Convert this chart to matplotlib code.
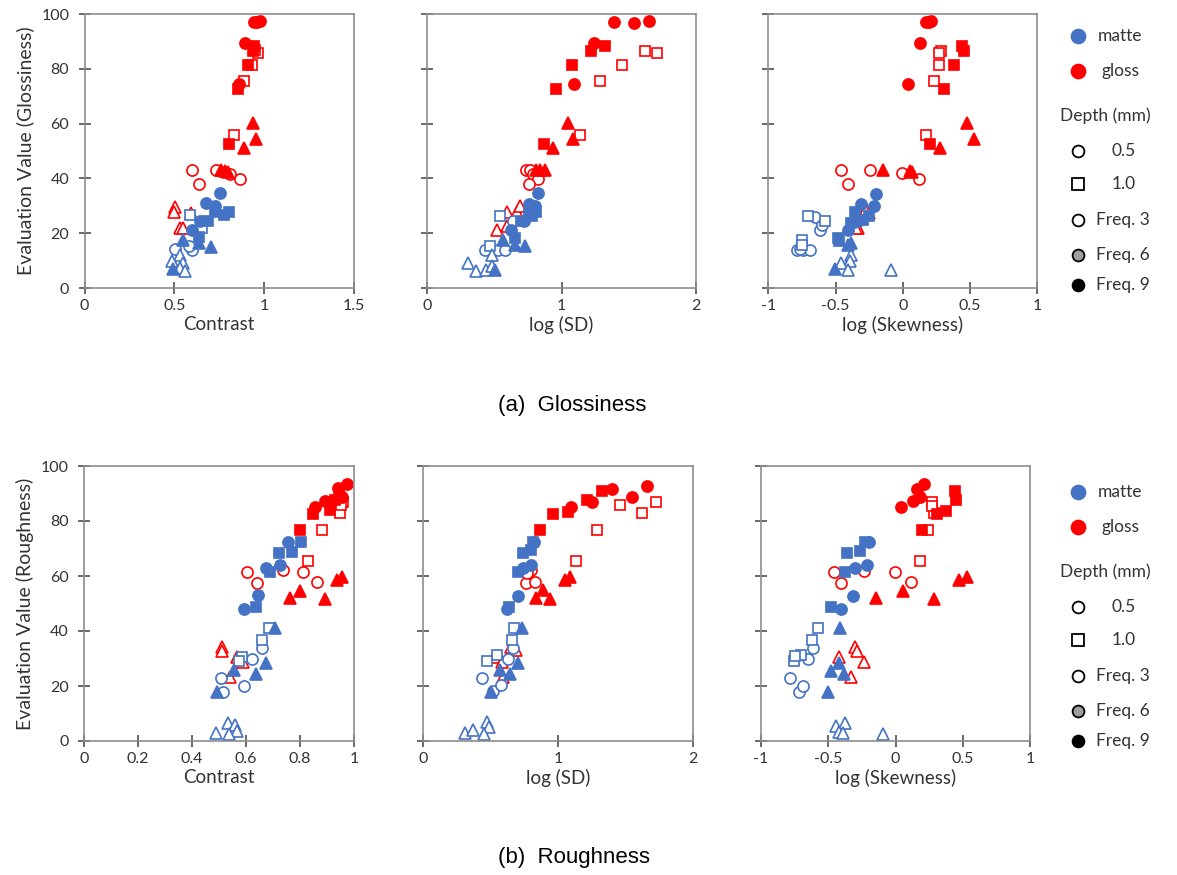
import matplotlib.pyplot as plt
from matplotlib.lines import Line2D

plt.rcParams['font.family'] = ['Lato', 'DejaVu Sans']
plt.rcParams['axes.unicode_minus'] = False

BLUE = '#4472C4'
RED = '#FF0000'
TXT = '#333333'

# key = (finish, marker, filled) -> list of (x, y)
# (a) Glossiness vs Contrast
gloss_contrast = {
    ('gloss', 'o', False): [(0.601, 42.9), (0.732, 43.1), (0.811, 41.7), (0.863, 39.8), (0.640, 38.0)],
    ('gloss', '^', False): [(0.505, 29.5), (0.499, 27.6), (0.592, 27.3), (0.533, 21.9), (0.551, 21.9)],
    ('gloss', 's', False): [(0.966, 85.7), (0.950, 87.0), (0.932, 81.4), (0.886, 75.6), (0.832, 55.9)],
    ('gloss', 'o', True): [(0.941, 97.2), (0.960, 97.0), (0.979, 97.5), (0.891, 89.3), (0.858, 74.5)],
    ('gloss', 's', True): [(0.945, 88.3), (0.938, 86.6), (0.910, 81.4), (0.852, 72.5), (0.802, 52.6)],
    ('gloss', '^', True): [(0.936, 60.4), (0.956, 54.3), (0.890, 51.0), (0.761, 43.1), (0.780, 42.8), (0.800, 42.4)],
    ('matte', 'o', False): [(0.505, 14.2), (0.598, 13.7), (0.579, 15.4)],
    ('matte', 's', False): [(0.585, 26.7), (0.654, 21.9)],
    ('matte', '^', False): [(0.533, 12.1), (0.486, 9.7), (0.551, 9.1), (0.533, 7.3), (0.561, 6.1)],
    ('matte', 'o', True): [(0.756, 34.6), (0.678, 31.0), (0.728, 29.8), (0.644, 24.6), (0.598, 21.0)],
    ('matte', 's', True): [(0.806, 27.9), (0.774, 26.7), (0.728, 27.9), (0.690, 24.3), (0.635, 18.6)],
    ('matte', '^', True): [(0.551, 17.4), (0.635, 16.4), (0.704, 14.9), (0.492, 6.9)],
}

# (a) Glossiness vs log(SD)
gloss_logsd = {
    ('gloss', 'o', False): [(0.734, 43.1), (0.764, 42.9), (0.790, 41.7), (0.826, 39.8), (0.757, 38.0)],
    ('gloss', '^', False): [(0.590, 27.6), (0.665, 27.6), (0.690, 29.8), (0.516, 21.3), (0.590, 22.5)],
    ('gloss', 's', False): [(1.618, 86.6), (1.711, 85.7), (1.449, 81.4), (1.285, 75.6), (1.136, 55.9)],
    ('gloss', 'o', True): [(1.390, 97.0), (1.540, 96.6), (1.647, 97.4), (1.240, 89.3), (1.092, 74.5)],
    ('gloss', 's', True): [(1.216, 86.6), (1.325, 88.3), (1.074, 81.4), (0.955, 72.5), (0.866, 52.6)],
    ('gloss', '^', True): [(1.049, 60.4), (1.082, 54.3), (0.935, 51.0), (0.807, 43.1), (0.837, 42.9), (0.875, 42.9)],
    ('matte', 'o', False): [(0.640, 24.3), (0.429, 14.0), (0.528, 14.0), (0.578, 14.0)],
    ('matte', 's', False): [(0.541, 26.1), (0.467, 15.4)],
    ('matte', '^', False): [(0.479, 12.1), (0.305, 9.1), (0.362, 6.1), (0.437, 6.4), (0.479, 8.1)],
    ('matte', 'o', True): [(0.826, 34.6), (0.755, 30.6), (0.800, 29.8), (0.720, 24.6), (0.620, 21.0)],
    ('matte', 's', True): [(0.810, 27.9), (0.780, 26.1), (0.755, 27.9), (0.700, 24.3), (0.655, 18.2)],
    ('matte', '^', True): [(0.565, 17.6), (0.653, 15.8), (0.727, 15.4), (0.504, 6.7)],
}

# (a) Glossiness vs log(Skewness)
gloss_logskew = {
    ('gloss', 'o', False): [(-0.461, 42.9), (-0.241, 43.1), (-0.007, 41.9), (0.119, 39.7), (-0.405, 38.0)],
    ('gloss', '^', False): [(-0.333, 21.9), (-0.300, 27.6), (-0.270, 29.0), (-0.250, 27.3), (-0.350, 22.0)],
    ('gloss', 's', False): [(0.287, 86.6), (0.267, 85.7), (0.272, 81.4), (0.235, 75.6), (0.176, 55.9)],
    ('gloss', 'o', True): [(0.173, 97.2), (0.198, 97.0), (0.210, 97.5), (0.129, 89.3), (0.037, 74.5)],
    ('gloss', 's', True): [(0.440, 88.3), (0.452, 86.6), (0.378, 81.4), (0.309, 72.5), (0.200, 52.6)],
    ('gloss', '^', True): [(0.474, 60.4), (0.531, 54.3), (0.279, 51.0), (-0.148, 43.1), (0.057, 42.8), (0.070, 42.4)],
    ('matte', 'o', False): [(-0.654, 25.9), (-0.617, 21.3), (-0.604, 23.1), (-0.790, 14.0), (-0.741, 14.0),
                            (-0.691, 14.0), (-0.765, 14.2)],
    ('matte', 's', False): [(-0.704, 26.1), (-0.580, 24.3), (-0.753, 17.6), (-0.750, 15.8)],
    ('matte', '^', False): [(-0.382, 12.1), (-0.395, 9.7), (-0.456, 9.1), (-0.407, 6.7), (-0.086, 6.7)],
    ('matte', 'o', True): [(-0.202, 34.4), (-0.308, 30.6), (-0.217, 29.8), (-0.407, 21.0), (-0.330, 24.6)],
    ('matte', 's', True): [(-0.358, 27.9), (-0.252, 26.1), (-0.296, 24.9), (-0.382, 23.7), (-0.481, 18.2),
                           (-0.475, 17.0)],
    ('matte', '^', True): [(-0.407, 15.8), (-0.382, 16.4), (-0.506, 6.9)],
}

# (b) Roughness vs Contrast
rough_contrast = {
    ('gloss', 'o', False): [(0.602, 61.6), (0.640, 57.3), (0.738, 62.2), (0.812, 61.6), (0.862, 57.9)],
    ('gloss', '^', False): [(0.510, 34.3), (0.510, 32.7), (0.566, 30.7), (0.590, 28.8), (0.541, 23.4)],
    ('gloss', 's', False): [(0.960, 87.0), (0.948, 82.8), (0.880, 76.7), (0.831, 65.5), (0.950, 85.8)],
    ('gloss', 'o', True): [(0.973, 93.3), (0.942, 91.9), (0.954, 88.8), (0.893, 87.3), (0.856, 85.2)],
    ('gloss', 's', True): [(0.945, 90.9), (0.930, 87.6), (0.911, 84.0), (0.849, 82.4), (0.800, 76.7)],
    ('gloss', '^', True): [(0.763, 51.9), (0.800, 54.5), (0.893, 51.6), (0.936, 58.5), (0.957, 59.7)],
    ('matte', 'o', False): [(0.658, 33.9), (0.621, 29.7), (0.506, 23.0), (0.514, 17.9), (0.593, 20.1)],
    ('matte', 's', False): [(0.686, 41.0), (0.658, 36.7), (0.584, 30.7), (0.575, 29.1)],
    ('matte', '^', False): [(0.489, 3.0), (0.532, 6.7), (0.559, 5.8), (0.565, 3.6), (0.537, 2.4)],
    ('matte', 'o', True): [(0.757, 72.2), (0.726, 64.0), (0.674, 63.0), (0.646, 53.1), (0.593, 48.0)],
    ('matte', 's', True): [(0.723, 68.2), (0.769, 68.8), (0.802, 72.2), (0.689, 61.6), (0.636, 48.8)],
    ('matte', '^', True): [(0.707, 41.0), (0.673, 28.3), (0.636, 24.4), (0.556, 25.8), (0.491, 17.7)],
}

# (b) Roughness vs log(SD)
rough_logsd = {
    ('gloss', 'o', False): [(0.780, 61.6), (0.762, 57.3), (0.830, 57.9), (0.800, 62.2), (0.770, 61.0)],
    ('gloss', '^', False): [(0.650, 34.3), (0.687, 33.1), (0.525, 30.7), (0.587, 28.8), (0.595, 23.4)],
    ('gloss', 's', False): [(1.724, 87.0), (1.462, 85.8), (1.624, 82.8), (1.292, 76.7), (1.137, 65.5)],
    ('gloss', 'o', True): [(1.664, 92.8), (1.549, 88.8), (1.400, 91.5), (1.250, 87.0), (1.100, 85.2)],
    ('gloss', 's', True): [(1.330, 90.9), (1.217, 87.6), (1.075, 83.4), (0.962, 82.4), (0.870, 76.7)],
    ('gloss', '^', True): [(0.837, 52.1), (0.887, 54.9), (0.942, 51.6), (1.055, 58.5), (1.087, 59.7)],
    ('matte', 'o', False): [(0.663, 33.9), (0.630, 29.8), (0.438, 23.0), (0.520, 18.2), (0.580, 20.4)],
    ('matte', 's', False): [(0.670, 41.0), (0.655, 36.7), (0.550, 31.3), (0.470, 29.1)],
    ('matte', '^', False): [(0.313, 2.8), (0.370, 4.0), (0.475, 6.8), (0.487, 5.2), (0.450, 2.4)],
    ('matte', 'o', True): [(0.825, 72.2), (0.800, 64.0), (0.738, 63.0), (0.700, 52.8), (0.620, 48.0)],
    ('matte', 's', True): [(0.738, 68.2), (0.800, 69.5), (0.813, 72.2), (0.705, 61.6), (0.637, 48.8)],
    ('matte', '^', True): [(0.730, 41.0), (0.705, 28.3), (0.645, 24.4), (0.570, 25.8), (0.500, 17.7)],
}

# (b) Roughness vs log(Skewness)
rough_logskew = {
    ('gloss', 'o', False): [(-0.460, 61.6), (-0.406, 57.3), (-0.234, 61.9), (-0.005, 61.6), (0.118, 57.9)],
    ('gloss', '^', False): [(-0.303, 34.3), (-0.283, 32.7), (-0.423, 30.7), (-0.234, 28.8), (-0.332, 23.4)],
    ('gloss', 's', False): [(0.271, 87.0), (0.283, 82.8), (0.241, 76.7), (0.180, 65.5), (0.270, 85.5)],
    ('gloss', 'o', True): [(0.209, 93.3), (0.160, 91.6), (0.185, 88.8), (0.128, 87.3), (0.042, 85.2)],
    ('gloss', 's', True): [(0.443, 90.9), (0.450, 87.6), (0.377, 83.6), (0.308, 82.4), (0.197, 76.7)],
    ('gloss', '^', True): [(-0.148, 51.9), (0.054, 54.5), (0.283, 51.6), (0.475, 58.5), (0.529, 59.7)],
    ('matte', 'o', False): [(-0.610, 33.9), (-0.652, 29.7), (-0.788, 23.0), (-0.714, 17.9), (-0.685, 20.1)],
    ('matte', 's', False): [(-0.578, 41.0), (-0.620, 36.7), (-0.700, 31.3), (-0.756, 29.1), (-0.750, 31.0)],
    ('matte', '^', False): [(-0.443, 5.6), (-0.374, 6.7), (-0.419, 3.4), (-0.394, 2.8), (-0.091, 2.4)],
    ('matte', 'o', True): [(-0.197, 72.2), (-0.214, 64.0), (-0.300, 63.0), (-0.313, 52.8), (-0.406, 48.0)],
    ('matte', 's', True): [(-0.357, 68.2), (-0.264, 69.1), (-0.227, 72.2), (-0.374, 61.6), (-0.480, 48.8)],
    ('matte', '^', True): [(-0.411, 41.0), (-0.419, 28.3), (-0.386, 24.4), (-0.480, 25.5), (-0.504, 17.7)],
}

W, H = 1177, 875
fig = plt.figure(figsize=(W / 100, H / 100), dpi=100)


def px_axes(x0, x1, y0, y1):
    # pixel box -> figure fraction
    return fig.add_axes([x0 / W, 1 - y1 / H, (x1 - x0) / W, (y1 - y0) / H])


def draw(ax, pts):
    for (finish, m, filled), xy in pts.items():
        c = RED if finish == 'gloss' else BLUE
        ms = {'o': 8, 's': 7.5, '^': 8.5}[m]
        ax.plot([p[0] for p in xy], [p[1] for p in xy], ls='none', marker=m, ms=ms,
                mfc=c if filled else 'white', mec=c, mew=1.2)


def style(ax, xlim, xticks, xlabel, ylabel=None):
    ax.set_xlim(xlim)
    ax.set_ylim(0, 100)
    ax.set_xticks(xticks)
    ax.set_xticklabels([f'{t:g}' for t in xticks])
    ax.set_yticks(range(0, 101, 20))
    for sp in ax.spines.values():
        sp.set_color('#8c8c8c')
        sp.set_linewidth(1.2)
    ax.tick_params(direction='inout', length=8, width=1.1, color='#404040',
                   labelsize=11.5, labelcolor=TXT)
    ax.tick_params(axis='y', pad=7)
    ax.tick_params(axis='x', pad=4)
    ax.set_xlabel(xlabel, fontsize=13.5, color=TXT, labelpad=2)
    if ylabel:
        ax.set_ylabel(ylabel, fontsize=14, color=TXT, labelpad=5)
    else:
        ax.set_yticklabels([])


rows = [
    (14, 288, [(84.5, 354), (427.3, 696), (768.3, 1037.3)],
     [gloss_contrast, gloss_logsd, gloss_logskew], 'Evaluation Value (Glossiness)'),
    (466, 741, [(84, 354), (423.3, 692.7), (761, 1030)],
     [rough_contrast, rough_logsd, rough_logskew], 'Evaluation Value (Roughness)'),
]
x_setup = [
    [((0, 1.5), [0, 0.5, 1, 1.5], 'Contrast'), ((0, 2), [0, 1, 2], 'log (SD)'),
     ((-1, 1), [-1, -0.5, 0, 0.5, 1], 'log (Skewness)')],
    [((0, 1), [0, 0.2, 0.4, 0.6, 0.8, 1], 'Contrast'), ((0, 2), [0, 1, 2], 'log (SD)'),
     ((-1, 1), [-1, -0.5, 0, 0.5, 1], 'log (Skewness)')],
]

for r, (y0, y1, xs, datas, ylab) in enumerate(rows):
    for i, ((x0, x1), d) in enumerate(zip(xs, datas)):
        ax = px_axes(x0, x1, y0, y1)
        draw(ax, d)
        xl, xt, xlab = x_setup[r][i]
        style(ax, xl, xt, xlab, ylab if i == 0 else None)


def fpt(x, y):
    return x / W, 1 - y / H


def legend_block(ytop):
    def mark(y, m, fc, ec, ms):
        fig.add_artist(Line2D([fpt(1078, y)[0]], [fpt(1078, y)[1]], marker=m, ms=ms,
                              mfc=fc, mec=ec, mew=1.3, ls='none', transform=fig.transFigure))

    def label(x, y, s):
        fig.text(*fpt(x, y), s, fontsize=12.5, color=TXT, va='center', ha='left')

    mark(ytop, 'o', BLUE, BLUE, 10)
    label(1098, ytop, 'matte')
    mark(ytop + 35, 'o', RED, RED, 10)
    label(1102, ytop + 35, 'gloss')
    label(1060, ytop + 80, 'Depth (mm)')
    mark(ytop + 115, 'o', 'white', 'black', 8.5)
    label(1112, ytop + 115, '0.5')
    mark(ytop + 148, 's', 'white', 'black', 8.5)
    label(1112, ytop + 148, '1.0')
    mark(ytop + 184, 'o', 'white', 'black', 8.5)
    label(1096, ytop + 184, 'Freq. 3')
    mark(ytop + 219, 'o', '#a0a0a0', 'black', 8.5)
    label(1096, ytop + 219, 'Freq. 6')
    mark(ytop + 249, 'o', 'black', 'black', 8.5)
    label(1096, ytop + 249, 'Freq. 9')


legend_block(36)
legend_block(492)

fig.text(*fpt(572, 405), '(a)  Glossiness', fontsize=16, color='black', ha='center', va='center',
         family='Liberation Sans')
fig.text(*fpt(574, 858), '(b)  Roughness', fontsize=16, color='black', ha='center', va='center',
         family='Liberation Sans')

plt.savefig('out.png', dpi=100)
